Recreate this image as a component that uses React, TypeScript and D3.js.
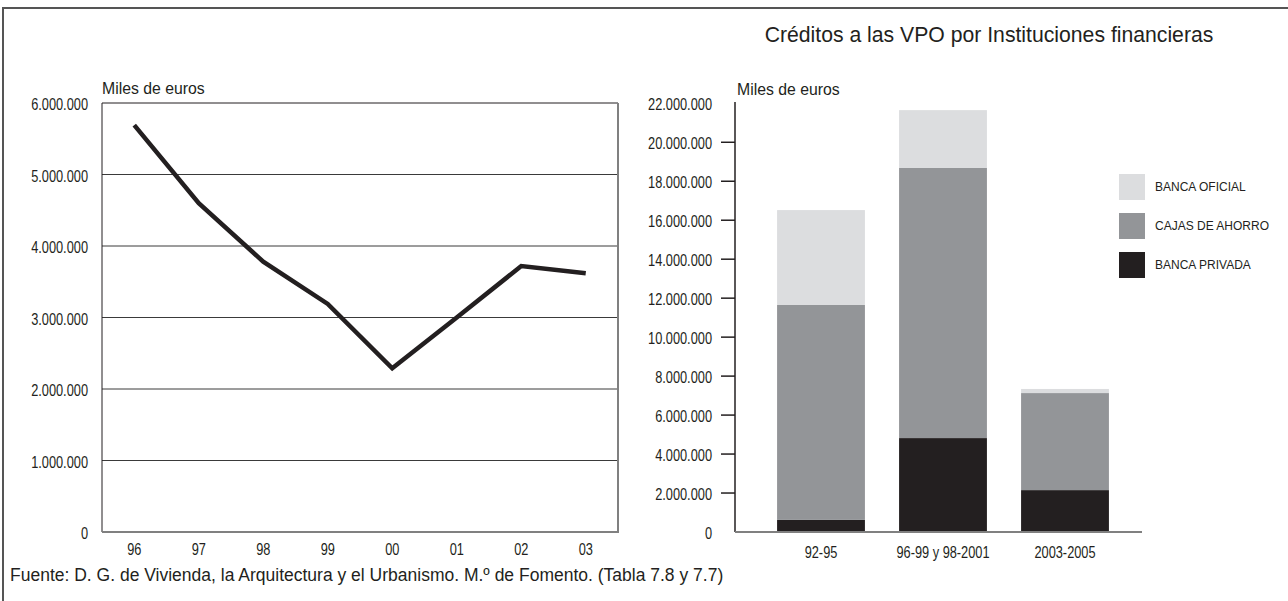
import React from "react";
import * as d3 from "d3";

const years = ["96", "97", "98", "99", "00", "01", "02", "03"];
const creditValues = [5690000, 4600000, 3780000, 3190000, 2290000, 3000000, 3720000, 3620000];
const leftTicks = [0, 1000000, 2000000, 3000000, 4000000, 5000000, 6000000];

const periods = ["92-95", "96-99 y 98-2001", "2003-2005"];
const bancaPrivada = [620000, 4820000, 2150000];
const cajasAhorro = [11030000, 13860000, 4980000];
const bancaOficial = [4870000, 2970000, 210000];
const rightTicks = [0, 2000000, 4000000, 6000000, 8000000, 10000000, 12000000, 14000000, 16000000, 18000000, 20000000, 22000000];

const seriesKeys = ["privada", "cajas", "oficial"];
const seriesLabels: Record<string, string> = {
  oficial: "BANCA OFICIAL",
  cajas: "CAJAS DE AHORRO",
  privada: "BANCA PRIVADA",
};
const seriesColors: Record<string, string> = {
  oficial: "#dcdddf",
  cajas: "#939598",
  privada: "#231f20",
};
const legendOrder = ["oficial", "cajas", "privada"];

const title = "Créditos a las VPO por Instituciones financieras";
const unitLabel = "Miles de euros";
const source = "Fuente: D. G. de Vivienda, la Arquitectura y el Urbanismo. M.º de Fomento. (Tabla 7.8 y 7.7)";

const fmt = d3.formatLocale({ thousands: ".", grouping: [3], decimal: ",", currency: ["", "€"] }).format(",d");

const SANS = "'Liberation Sans', Arial, Helvetica, sans-serif";
const COND = 0.8;

function CondText(props: { x: number; y: number; anchor: string; children: any; size?: number }) {
  const { x, y, anchor, children, size = 16 } = props;
  return (
    <text
      transform={`translate(${x},${y}) scale(${COND},1)`}
      textAnchor={anchor}
      fontFamily={SANS}
      fontSize={size}
      fill="#231f20"
    >
      {children}
    </text>
  );
}

export default function App() {
  // Left chart
  const xL = d3.scaleBand<string>().domain(years).range([102, 618]);
  const yL = d3.scaleLinear().domain([0, 6000000]).range([532, 103]);
  const line = d3
    .line<number>()
    .x((_, i) => (xL(years[i]) as number) + xL.bandwidth() / 2)
    .y((d) => yL(d));

  // Right chart
  const xR = d3.scaleBand<string>().domain(periods).range([760, 1126]).paddingInner(0.28).paddingOuter(0.14);
  const yR = d3.scaleLinear().domain([0, 22000000]).range([532, 103.3]);
  const table = periods.map((p, i) => ({
    period: p,
    privada: bancaPrivada[i],
    cajas: cajasAhorro[i],
    oficial: bancaOficial[i],
  }));
  const stacked = d3.stack<any>().keys(seriesKeys)(table);

  const legendY = d3.scaleBand<string>().domain(legendOrder).range([174, 291]);

  return (
    <svg
      width={1288}
      height={601}
      style={{ position: "absolute", left: 0, top: 0, background: "#fff" }}
    >
      <rect x={0} y={0} width={1288} height={601} fill="#fff" />
      {/* outer frame */}
      <path d="M3,601 V8 H1288" fill="none" stroke="#555" strokeWidth={2} />

      {/* title */}
      <text x={989} y={42} textAnchor="middle" fontFamily={SANS} fontSize={21.2} fill="#231f20">
        {title}
      </text>

      {/* ===== Left chart ===== */}
      <text x={102} y={94} fontFamily={SANS} fontSize={15.8} fill="#231f20">
        {unitLabel}
      </text>
      {leftTicks.slice(1, -1).map((t) => (
        <line key={t} x1={102} x2={618} y1={yL(t)} y2={yL(t)} stroke="#3a3a3a" strokeWidth={1} />
      ))}
      <line x1={102} x2={618} y1={yL(6000000)} y2={yL(6000000)} stroke="#231f20" strokeWidth={1} />
      <line x1={102} x2={102} y1={yL(6000000)} y2={yL(0)} stroke="#231f20" strokeWidth={1} />
      <line x1={618} x2={618} y1={yL(6000000)} y2={yL(0) + 1} stroke="#808080" strokeWidth={2} />
      <line x1={102} x2={619} y1={yL(0)} y2={yL(0)} stroke="#808080" strokeWidth={2} />
      {leftTicks.map((t) => (
        <CondText key={t} x={88} y={yL(t) + 7} anchor="end">
          {fmt(t)}
        </CondText>
      ))}
      {years.map((yv) => (
        <CondText key={yv} x={(xL(yv) as number) + xL.bandwidth() / 2} y={555} anchor="middle">
          {yv}
        </CondText>
      ))}
      <path
        d={line(creditValues) as string}
        fill="none"
        stroke="#231f20"
        strokeWidth={4.5}
        strokeLinejoin="miter"
        strokeLinecap="butt"
      />

      {/* ===== Right chart ===== */}
      <text x={737} y={95} fontFamily={SANS} fontSize={15.8} fill="#231f20">
        {unitLabel}
      </text>
      {stacked.map((s) => (
        <g key={s.key} fill={seriesColors[s.key]}>
          {s.map((d, i) => (
            <rect
              key={i}
              x={xR(periods[i]) as number}
              width={xR.bandwidth()}
              y={yR(d[1])}
              height={yR(d[0]) - yR(d[1])}
            />
          ))}
        </g>
      ))}
      <line x1={735} x2={735} y1={102} y2={532} stroke="#231f20" strokeWidth={1.5} />
      {rightTicks.slice(1, -1).map((t) => (
        <line key={t} x1={721} x2={735} y1={yR(t)} y2={yR(t)} stroke="#231f20" strokeWidth={1.5} />
      ))}
      <line x1={735} x2={1142} y1={532} y2={532} stroke="#808080" strokeWidth={2} />
      {rightTicks.map((t) => (
        <CondText key={t} x={712} y={yR(t) + 6.5} anchor="end">
          {fmt(t)}
        </CondText>
      ))}
      {periods.map((p) => (
        <CondText key={p} x={(xR(p) as number) + xR.bandwidth() / 2} y={558} anchor="middle">
          {p}
        </CondText>
      ))}

      {/* legend */}
      {legendOrder.map((k) => (
        <g key={k}>
          <rect x={1119} y={(legendY(k) as number)} width={26} height={26} fill={seriesColors[k]} />
          <text
            x={1155}
            y={(legendY(k) as number) + 17}
            fontFamily={SANS}
            fontSize={12}
            fill="#231f20"
          >
            {seriesLabels[k]}
          </text>
        </g>
      ))}

      {/* source */}
      <text x={10} y={581} fontFamily={SANS} fontSize={17.5} fill="#231f20">
        {source}
      </text>
    </svg>
  );
}
